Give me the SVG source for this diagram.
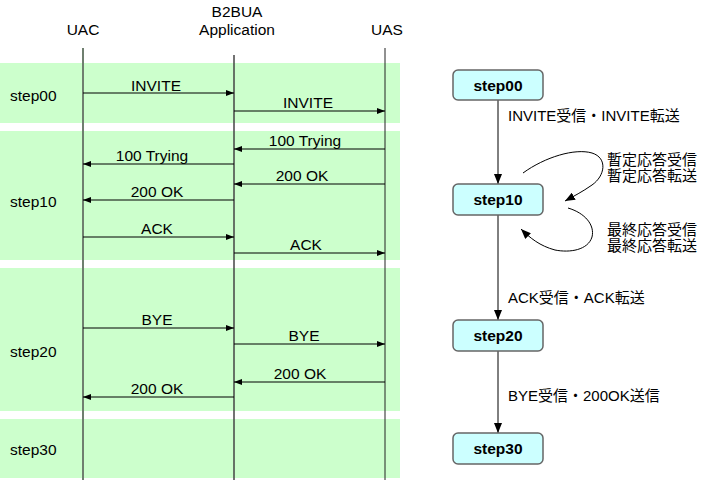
<svg xmlns="http://www.w3.org/2000/svg" width="712" height="480" viewBox="0 0 712 480">
<style>
text{font-family:"Liberation Sans","Noto Sans CJK JP",Arial,sans-serif;font-size:15.5px;fill:#000}
.c{text-anchor:middle}
.band{fill:#CCFFCC}
.msg{stroke:#000;stroke-width:1;fill:none;marker-end:url(#ah)}
.tr{stroke:#000;stroke-width:1;fill:none;marker-end:url(#ah2)}
.box{fill:#CCFFFF;stroke:#666;stroke-width:1.5}
.bt{font-weight:bold;text-anchor:middle}
.jp{font-size:15px}
</style>
<defs>
<marker id="ah" markerWidth="8" markerHeight="6" refX="8" refY="3" orient="auto" markerUnits="userSpaceOnUse">
<path d="M0,0 L8,3 L0,6 z" fill="#000"/>
</marker>
<marker id="ah2" markerWidth="10" markerHeight="8" refX="10" refY="4" orient="auto" markerUnits="userSpaceOnUse">
<path d="M0,0 L10,4 L0,8 z" fill="#000"/>
</marker>
</defs>
<g id="bands">
<rect class="band" x="0" y="63" width="400" height="60"/>
<rect class="band" x="0" y="131" width="400" height="129"/>
<rect class="band" x="0" y="268" width="400" height="143"/>
<rect class="band" x="0" y="419" width="400" height="59"/>
<text x="10" y="101">step00</text>
<text x="10" y="207">step10</text>
<text x="10" y="357">step20</text>
<text x="10" y="455">step30</text>
</g>
<g id="lifelines">
<text class="c" x="83" y="35">UAC</text>
<text class="c" x="237" y="17">B2BUA</text>
<text class="c" x="237" y="35">Application</text>
<text class="c" x="387" y="35">UAS</text>
<line x1="83" y1="48" x2="83" y2="480" stroke="#6f7f6f" stroke-width="2"/>
<line x1="234" y1="55" x2="234" y2="480" stroke="#444" stroke-width="1.5"/>
<line x1="385" y1="48" x2="385" y2="480" stroke="#222" stroke-width="1"/>
</g>
<g id="messages">
<line class="msg" x1="83" y1="93" x2="234" y2="93"/><text class="c" x="156" y="91">INVITE</text>
<line class="msg" x1="234" y1="111" x2="385" y2="111"/><text class="c" x="308" y="108">INVITE</text>
<line class="msg" x1="385" y1="149" x2="234" y2="149"/><text class="c" x="305" y="146">100 Trying</text>
<line class="msg" x1="234" y1="164" x2="83" y2="164"/><text class="c" x="152" y="161">100 Trying</text>
<line class="msg" x1="385" y1="184" x2="234" y2="184"/><text class="c" x="302" y="181">200 OK</text>
<line class="msg" x1="234" y1="200" x2="83" y2="200"/><text class="c" x="157" y="197">200 OK</text>
<line class="msg" x1="83" y1="237" x2="234" y2="237"/><text class="c" x="157" y="234">ACK</text>
<line class="msg" x1="234" y1="253" x2="385" y2="253"/><text class="c" x="306" y="250">ACK</text>
<line class="msg" x1="83" y1="328" x2="234" y2="328"/><text class="c" x="157" y="325">BYE</text>
<line class="msg" x1="234" y1="344" x2="385" y2="344"/><text class="c" x="304" y="341">BYE</text>
<line class="msg" x1="385" y1="382" x2="234" y2="382"/><text class="c" x="300" y="379">200 OK</text>
<line class="msg" x1="234" y1="397" x2="83" y2="397"/><text class="c" x="157" y="394">200 OK</text>
</g>
<g id="connectors">
<line class="tr" x1="498" y1="100" x2="498" y2="184"/>
<line class="tr" x1="498" y1="215" x2="498" y2="320"/>
<line class="tr" x1="498" y1="351" x2="498" y2="433"/>
<path class="tr" d="M523,173 C545,157 575,148 592,153 C608,158 605,176 592,185 C582,192 574,196 565,201"/>
<path class="tr" d="M568,208 C585,213 595,225 592,237 C588,250 570,253 555,250 C540,246 530,238 521,229"/>
<text class="jp" x="508" y="121">INVITE受信・INVITE転送</text>
<text class="jp" x="607" y="165">暫定応答受信</text>
<text class="jp" x="607" y="181">暫定応答転送</text>
<text class="jp" x="607" y="235">最終応答受信</text>
<text class="jp" x="607" y="251">最終応答転送</text>
<text class="jp" x="508" y="303">ACK受信・ACK転送</text>
<text class="jp" x="508" y="401">BYE受信・200OK送信</text>
</g>
<g id="step00"><rect class="box" x="453" y="70" width="90" height="30" rx="5"/><text class="bt" x="498" y="90.5">step00</text></g>
<g id="step10"><rect class="box" x="453" y="184" width="90" height="31" rx="5"/><text class="bt" x="498" y="205">step10</text></g>
<g id="step20"><rect class="box" x="453" y="320" width="90" height="31" rx="5"/><text class="bt" x="498" y="341">step20</text></g>
<g id="step30"><rect class="box" x="453" y="433" width="90" height="31" rx="5"/><text class="bt" x="498" y="454">step30</text></g>
</svg>
